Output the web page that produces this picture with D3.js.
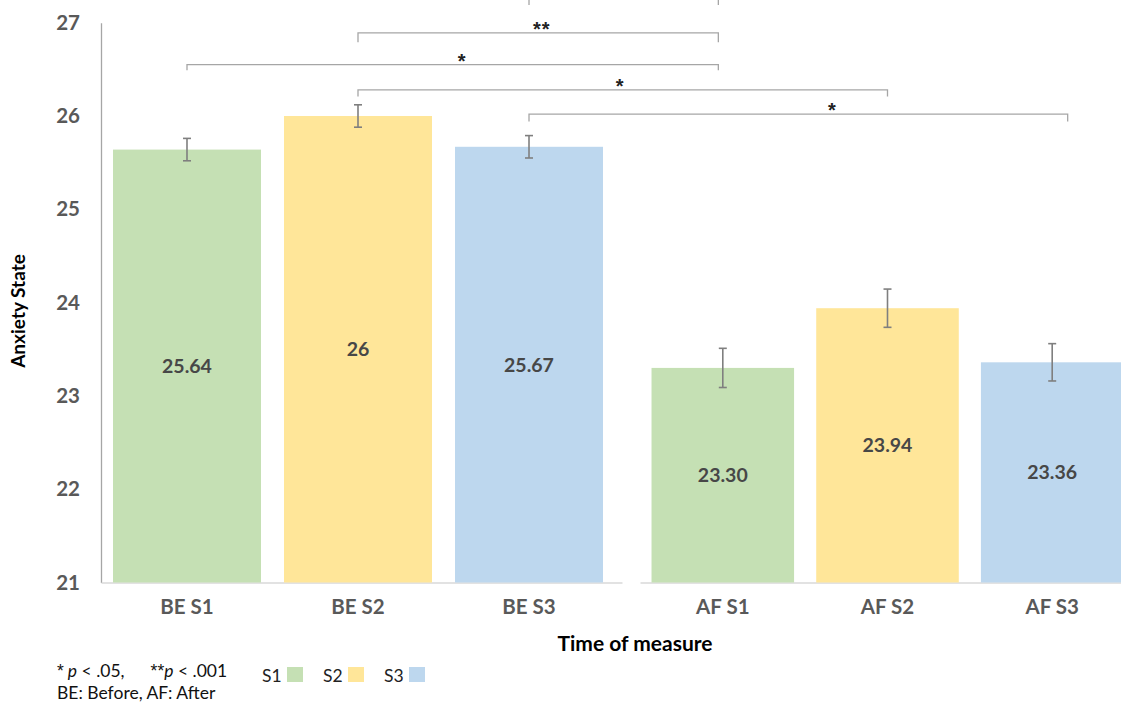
<!DOCTYPE html>
<html><head><meta charset="utf-8">
<script src="https://cdn.jsdelivr.net/npm/d3@7"></script>
<style>
body{margin:0;background:#fff;}
svg{display:block;font-family:Lato,"Open Sans",sans-serif;}
</style>
</head><body>
<svg id="chart" width="1121" height="702"></svg>
<script>
// ---- data ----
const categories = ["BE S1","BE S2","BE S3","AF S1","AF S2","AF S3"];
const groups     = ["BE","BE","BE","AF","AF","AF"];
const sessions   = ["S1","S2","S3","S1","S2","S3"];
const means      = [25.64, 26.00, 25.67, 23.30, 23.94, 23.36];
const errors     = [0.12, 0.12, 0.12, 0.21, 0.205, 0.20];
const valueLabels= ["25.64","26","25.67","23.30","23.94","23.36"];
const yTicks     = [21,22,23,24,25,26,27];
const legendKeys = ["S1","S2","S3"];
// significance brackets: positions in (fractional) category index, heights in data units
const bracketFrom    = [2, 1, 0, 1, 2];
const bracketTo      = [2.977, 2.977, 2.977, 4, 5.094];
const bracketY       = [27.25, 26.89, 26.55, 26.28, 26.02];
const bracketTickEnd = [27.19, 26.79, 26.49, 26.21, 25.94];
const bracketLabels  = ["", "**", "*", "*", "*"];
const bracketLabelAt = [0.5, 0.51, 0.518, 0.495, 0.563];

const colors = {S1:"#C5E0B4", S2:"#FFE699", S3:"#BDD7EE"};

// ---- scales ----
const svg = d3.select("#chart");
const y = d3.scaleLinear().domain([21,27]).range([582.5,22.7]);
const xBE = d3.scaleBand().domain(categories.filter((c,i)=>groups[i]==="BE"))
  .range([101,622]).paddingInner(0.1345).paddingOuter(0.0906).align(0.387);
const xAF = d3.scaleBand().domain(categories.filter((c,i)=>groups[i]==="AF"))
  .range([640,1135]).paddingInner(0.1345).paddingOuter(0.07);
const band = i => groups[i]==="BE" ? xBE : xAF;
const left = i => band(i)(categories[i]);
const bw = i => band(i).bandwidth();
const center = i => left(i) + bw(i)/2;
const xPos = f => {
  const i = Math.max(0, Math.min(categories.length-2, Math.floor(f)));
  const t = f - i;
  return center(i) + t*(center(i+1)-center(i));
};

const data = categories.map((c,i)=>({c, i, g:groups[i], s:sessions[i], v:means[i], e:errors[i], lab:valueLabels[i]}));

// ---- axes ----
const yAxis = svg.append("g").attr("transform","translate(101,0)")
  .call(d3.axisLeft(y).tickValues(yTicks).tickSize(0).tickSizeOuter(0).tickPadding(21).tickFormat(d3.format("d")));
yAxis.select(".domain").attr("stroke","#a6a6a6").attr("stroke-width",1.3);
yAxis.selectAll("text").attr("font-family","Lato").attr("font-size",20.5).attr("font-weight","bold").attr("fill","#595959");

[xBE,xAF].forEach(sc=>{
  const g = svg.append("g").attr("transform",`translate(0,${y(21)})`)
    .call(d3.axisBottom(sc).tickSize(0).tickSizeOuter(0));
  g.select(".domain").attr("stroke","#d9d9d9").attr("stroke-width",1.3);
  g.selectAll("text").attr("font-family","Lato").attr("font-size",20.5).attr("font-weight","bold")
    .attr("fill","#595959").attr("dy",0).attr("y",31.5);
});

// ---- bars ----
svg.append("g").selectAll("rect").data(data).join("rect")
  .attr("x",d=>left(d.i)).attr("width",d=>bw(d.i))
  .attr("y",d=>y(d.v)).attr("height",d=>y(21)-y(d.v))
  .attr("fill",d=>colors[d.s]);

// ---- value labels ----
svg.append("g").selectAll("text").data(data).join("text")
  .attr("x",d=>center(d.i)).attr("y",d=>(y(d.v)+y(21))/2).attr("dy","0.36em")
  .attr("text-anchor","middle").attr("font-size",19.5).attr("font-weight","bold").attr("fill","#474747")
  .text(d=>d.lab);

// ---- error bars ----
const eb = svg.append("g").attr("stroke","#7f7f7f").attr("stroke-width",1.6);
data.forEach(d=>{
  const cx = center(d.i);
  eb.append("line").attr("x1",cx).attr("x2",cx).attr("y1",y(d.v+d.e)).attr("y2",y(d.v-d.e));
  eb.append("line").attr("x1",cx-4).attr("x2",cx+4).attr("y1",y(d.v+d.e)).attr("y2",y(d.v+d.e));
  eb.append("line").attr("x1",cx-4).attr("x2",cx+4).attr("y1",y(d.v-d.e)).attr("y2",y(d.v-d.e));
});

// ---- significance brackets ----
const br = svg.append("g");
bracketFrom.forEach((f,k)=>{
  const x1 = xPos(f), x2 = xPos(bracketTo[k]), yy = y(bracketY[k]), ye = y(bracketTickEnd[k]);
  br.append("path").attr("d",`M${x1},${ye}V${yy}H${x2}V${ye}`)
    .attr("fill","none").attr("stroke","#a6a6a6").attr("stroke-width",1.3);
  if (bracketLabels[k]) {
    br.append("text").attr("x", x1 + bracketLabelAt[k]*(x2-x1)).attr("y", yy+3)
      .attr("text-anchor","middle").attr("font-family","'Liberation Sans', Arial, sans-serif")
      .attr("font-size",20).attr("font-weight","bold").attr("fill","#222").attr("letter-spacing",1)
      .text(bracketLabels[k]);
  }
});

// ---- axis titles ----
svg.append("text").attr("transform","translate(25,311) rotate(-90)")
  .attr("text-anchor","middle").attr("font-size",19).attr("font-weight","bold").attr("fill","#000")
  .text("Anxiety State");
svg.append("text").attr("x",635).attr("y",651)
  .attr("text-anchor","middle").attr("font-size",21).attr("font-weight","bold").attr("fill","#000")
  .text("Time of measure");

// ---- footnote ----
const ast = "'Liberation Sans', Arial, sans-serif";
const fn = svg.append("text").attr("x",57).attr("y",677).attr("font-size",17.5).attr("fill","#111");
fn.append("tspan").attr("font-family",ast).text("*");
fn.append("tspan").attr("dx",4).attr("font-style","italic").text("p");
fn.append("tspan").text(" < .05,");
fn.append("tspan").attr("dx",26).attr("font-family",ast).text("**");
fn.append("tspan").attr("font-style","italic").text("p");
fn.append("tspan").text(" < .001");
svg.append("text").attr("x",57).attr("y",699).attr("font-size",17.5).attr("fill","#111")
  .text("BE: Before, AF: After");

// ---- legend ----
const lg = svg.append("g").selectAll("g").data(legendKeys).join("g")
  .attr("transform",(d,i)=>`translate(${262 + i*61},0)`);
lg.append("text").attr("x",0).attr("y",682).attr("font-size",17.5).attr("fill","#222").text(d=>d);
lg.append("rect").attr("x",25).attr("y",667).attr("width",16).attr("height",15).attr("fill",d=>colors[d]);
</script>
</body></html>
